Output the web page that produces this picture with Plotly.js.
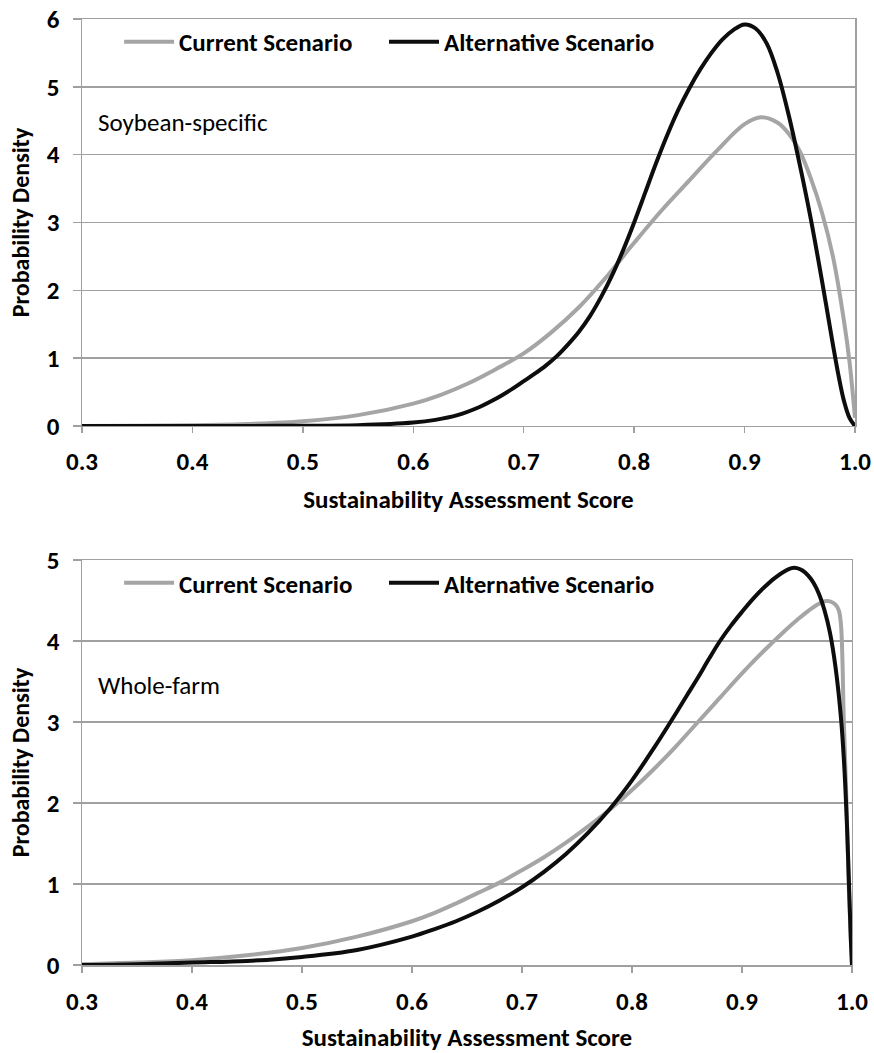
<!DOCTYPE html>
<html>
<head>
<meta charset="utf-8">
<script src="https://cdn.plot.ly/plotly-3.0.1.min.js"></script>
<style>
html,body{margin:0;padding:0;background:#fff;}
#chart{width:874px;height:1053px;}
</style>
</head>
<body>
<div id="chart"></div>
<script>
// ---------- Data ----------
const seriesNames = ["Current Scenario", "Alternative Scenario"];
const panelLabels = ["Soybean-specific", "Whole-farm"];
const xTickVals = [0.3, 0.4, 0.5, 0.6, 0.7, 0.8, 0.9, 1.0];
const xTickText = ["0.3", "0.4", "0.5", "0.6", "0.7", "0.8", "0.9", "1.0"];
const yTickValsTop = [0, 1, 2, 3, 4, 5, 6];
const yTickValsBottom = [0, 1, 2, 3, 4, 5];

// Soybean-specific panel
const soyCurrentX = [0.30,0.35,0.40,0.45,0.50,0.55,0.60,0.625,0.65,0.675,0.70,0.725,0.75,0.775,0.80,0.825,0.85,0.875,0.90,0.915,0.93,0.94,0.95,0.96,0.97,0.98,0.99,0.995,1.00];
const soyCurrentY = [0.00,0.005,0.01,0.03,0.07,0.16,0.33,0.46,0.63,0.84,1.07,1.38,1.75,2.2,2.7,3.18,3.62,4.06,4.45,4.55,4.47,4.31,4.05,3.65,3.15,2.5,1.55,0.95,0.12];
const soyAltX = [0.30,0.40,0.45,0.50,0.55,0.60,0.62,0.64,0.66,0.67,0.68,0.69,0.70,0.71,0.72,0.73,0.74,0.75,0.76,0.77,0.78,0.79,0.80,0.81,0.82,0.83,0.84,0.85,0.86,0.87,0.88,0.89,0.90,0.91,0.92,0.93,0.94,0.95,0.96,0.97,0.98,0.985,0.99,0.995,1.00];
const soyAltY = [0.00,0.00,0.001,0.003,0.012,0.05,0.09,0.16,0.28,0.36,0.45,0.55,0.66,0.77,0.89,1.03,1.20,1.39,1.62,1.90,2.22,2.59,3.00,3.44,3.88,4.29,4.66,4.98,5.26,5.50,5.70,5.84,5.92,5.86,5.64,5.20,4.58,3.85,3.05,2.15,1.20,0.75,0.37,0.12,0.00];

// Whole-farm panel
const farmCurrentX = [0.30,0.35,0.40,0.45,0.50,0.55,0.60,0.62,0.64,0.66,0.68,0.70,0.72,0.74,0.76,0.78,0.80,0.82,0.84,0.86,0.88,0.90,0.92,0.94,0.95,0.96,0.97,0.975,0.98,0.985,0.988,0.99,0.9926,0.995,0.997,0.999,1.00];
const farmCurrentY = [0.01,0.03,0.06,0.12,0.21,0.35,0.54,0.64,0.76,0.89,1.02,1.17,1.33,1.51,1.71,1.92,2.16,2.42,2.70,3.00,3.30,3.60,3.88,4.14,4.26,4.37,4.46,4.49,4.49,4.45,4.38,4.20,3.00,2.00,1.00,0.30,0.00];
const farmAltX = [0.30,0.35,0.40,0.45,0.50,0.55,0.60,0.62,0.64,0.66,0.68,0.70,0.72,0.74,0.76,0.78,0.80,0.82,0.835,0.85,0.86,0.87,0.88,0.89,0.90,0.91,0.92,0.93,0.94,0.945,0.95,0.955,0.96,0.965,0.97,0.975,0.98,0.985,0.99,0.993,0.9955,0.9975,0.999,1.00];
const farmAltY = [0.00,0.01,0.03,0.05,0.10,0.185,0.35,0.44,0.54,0.66,0.80,0.96,1.15,1.37,1.63,1.93,2.28,2.68,3.00,3.33,3.55,3.78,4.00,4.19,4.36,4.52,4.66,4.78,4.87,4.90,4.90,4.87,4.81,4.72,4.58,4.38,4.10,3.68,3.05,2.45,1.70,0.90,0.30,0.00];

// ---------- Styling ----------
const FONT = "Carlito, Lato, 'Open Sans', sans-serif";
const GRAY = "#a5a5a5";
const BLACK = "#0d0d0d";
const GRID = "#a0a0a0";

function line(x, y, name, color, xa, ya, legend) {
  return {
    type: "scatter", mode: "lines", x: x, y: y, name: name,
    xaxis: xa, yaxis: ya, legend: legend, showlegend: true,
    line: {color: color, width: 4, shape: "spline", smoothing: 1},
    hoverinfo: "skip"
  };
}

const data = [
  line(soyCurrentX, soyCurrentY, seriesNames[0], GRAY, "x", "y", "legend"),
  line(soyAltX, soyAltY, seriesNames[1], BLACK, "x", "y", "legend2"),
  line(farmCurrentX, farmCurrentY, seriesNames[0], GRAY, "x2", "y2", "legend3"),
  line(farmAltX, farmAltY, seriesNames[1], BLACK, "x2", "y2", "legend4")
];

function xAxis(domain, anchor) {
  return {
    domain: domain, anchor: anchor, range: [0.3, 1.0],
    tickvals: xTickVals, ticktext: xTickText,
    ticks: "outside", ticklen: 6, tickcolor: GRID, tickwidth: 1.5,
    ticklabelstandoff: 7,
    showline: true, linecolor: GRID, linewidth: 1.5, mirror: true,
    showgrid: false, zeroline: false, automargin: false,
    tickfont: {family: FONT, size: 25, weight: "bold", color: "#000"},
    title: {text: "Sustainability Assessment Score", standoff: 14,
            font: {family: FONT, size: 25, weight: "bold", color: "#000"}}
  };
}
function yAxis(domain, anchor, maxv, vals) {
  return {
    domain: domain, anchor: anchor, range: [0, maxv],
    tickvals: vals,
    ticks: "outside", ticklen: 8, tickcolor: GRID, tickwidth: 1.5,
    ticklabelstandoff: 8,
    showline: true, linecolor: GRID, linewidth: 1.5, mirror: true,
    showgrid: true, gridcolor: GRID, gridwidth: 1.5, zeroline: false, automargin: false,
    tickfont: {family: FONT, size: 25, weight: "bold", color: "#000"},
    title: {text: "Probability Density", standoff: 10,
            font: {family: FONT, size: 24, weight: "bold", color: "#000"}}
  };
}

function legendCfg(x, y) {
  return {
    orientation: "h", x: x, xanchor: "left", y: y, yanchor: "middle",
    xref: "paper", yref: "paper",
    bgcolor: "rgba(0,0,0,0)", borderwidth: 0,
    itemwidth: 50,
    font: {family: FONT, size: 25, weight: "bold", color: "#000"}
  };
}

const layout = {
  width: 874, height: 1053,
  margin: {l: 82, r: 19, t: 19, b: 88},
  paper_bgcolor: "#fff", plot_bgcolor: "#fff",
  showlegend: true,
  xaxis: xAxis([0, 1], "y"),
  yaxis: yAxis([0.5698, 1], "x", 6, yTickValsTop),
  xaxis2: xAxis([0, 0.9961], "y2"),
  yaxis2: yAxis([0, 0.4281], "x2", 5, yTickValsBottom),
  legend: legendCfg(0.048, 0.9757),
  legend2: legendCfg(0.3907, 0.9757),
  legend3: legendCfg(0.048, 0.4038),
  legend4: legendCfg(0.3907, 0.4038),
  annotations: [
    {text: panelLabels[0], xref: "x", yref: "y", x: 0.313, y: 4.47,
     xanchor: "left", yanchor: "middle", showarrow: false,
     font: {family: FONT, size: 25, color: "#000"}},
    {text: panelLabels[1], xref: "x2", yref: "y2", x: 0.313, y: 3.45,
     xanchor: "left", yanchor: "middle", showarrow: false,
     font: {family: FONT, size: 25, color: "#000"}}
  ]
};

Plotly.newPlot("chart", data, layout, {displayModeBar: false, staticPlot: true});
</script>
</body>
</html>
